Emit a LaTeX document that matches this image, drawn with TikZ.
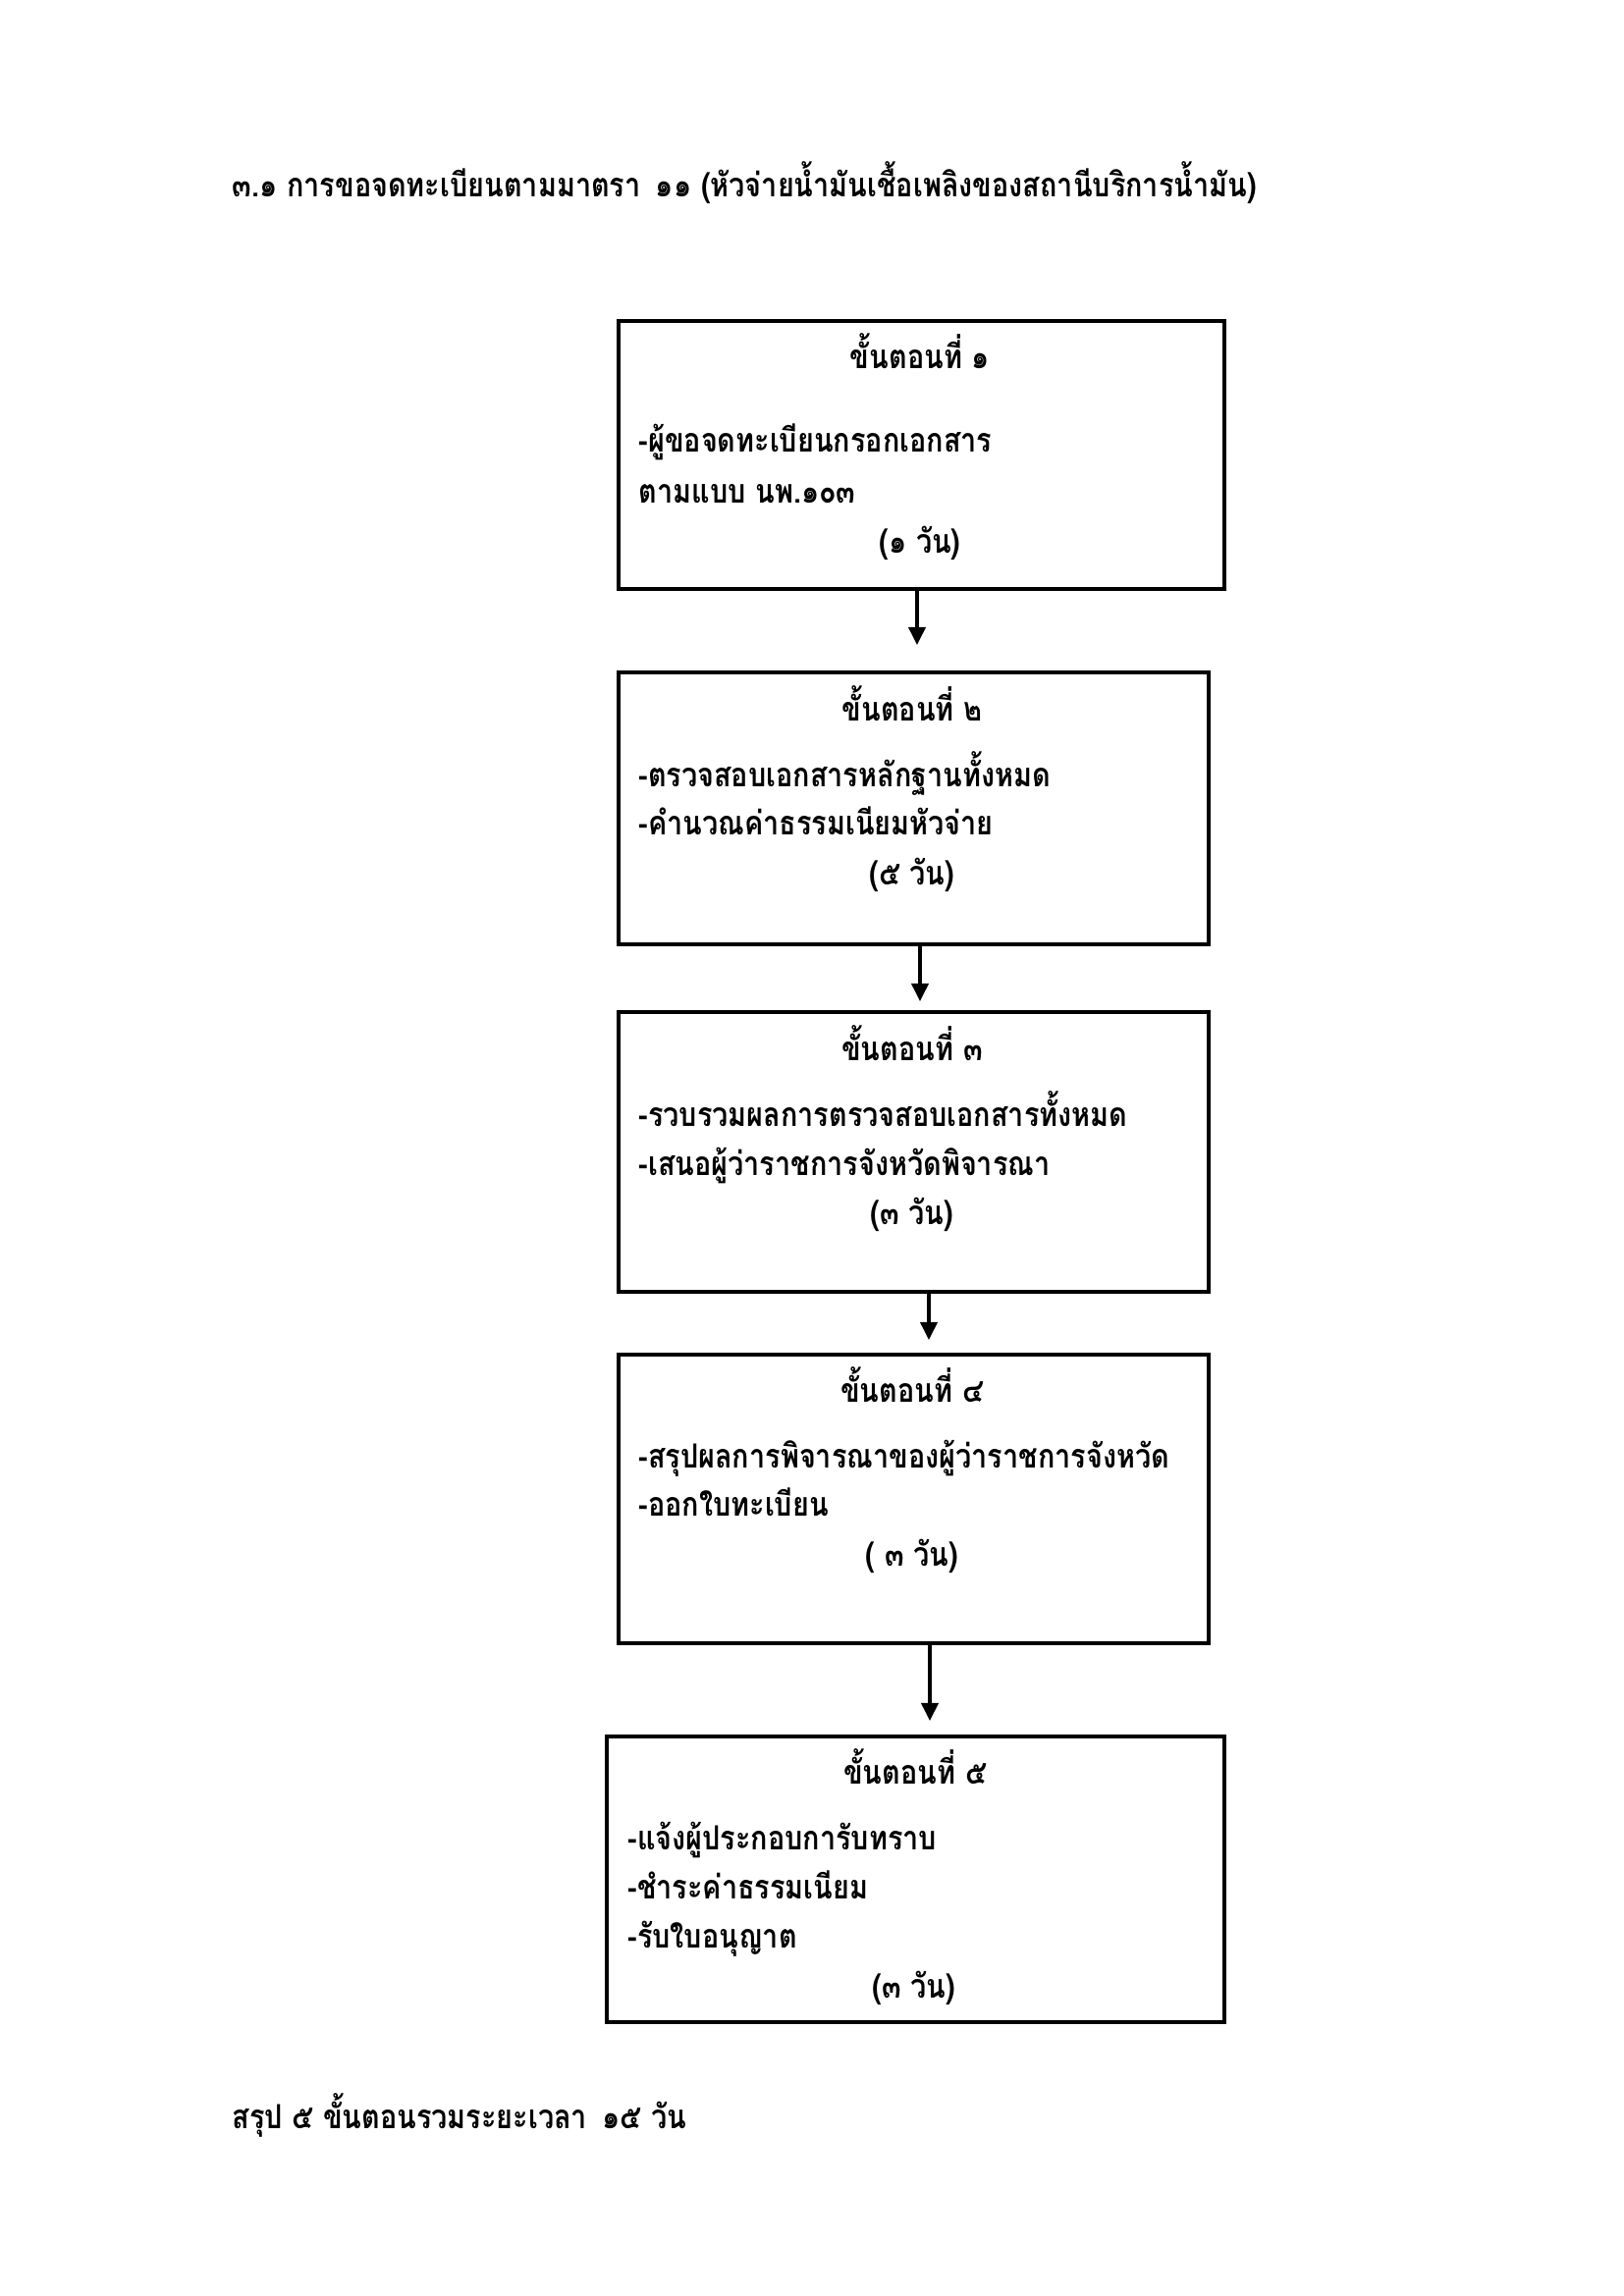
\documentclass[tikz,border=0pt]{standalone}
\usepackage{fontspec}
\newfontfamily\thaifont[Script=Thai,FakeStretch=0.85]{Loma}
\usetikzlibrary{arrows.meta,fit}
\tikzset{
  box/.style={draw, line width=1.1pt, inner sep=0pt},
  arr/.style={line width=1.1pt, -{Triangle[length=6.5pt,width=6.2pt]}},
  txt/.style={inner sep=0pt, anchor=base west, font=\thaifont\bfseries\fontsize{12.2}{14}\selectfont},
  ctxt/.style={txt, anchor=base},
}
\begin{document}
\begin{tikzpicture}[x=0.3599pt, y=-0.3599pt]
\useasboundingbox (0,0) rectangle (1654,2339);
\fill[white] (0,0) rectangle (1654,2339);
% title
\node[txt] (title) at (236,200) {๓.๑ การขอจดทะเบียนตามมาตรา\hspace{0.45em}๑๑ (หัวจ่ายน้ำมันเชื้อเพลิงของสถานีบริการน้ำมัน)};
% boxes
\node[box, fit={(630,327) (1247,600)}] (b1) {};
\node[box, fit={(630,685) (1231,962)}] (b2) {};
\node[box, fit={(630,1031) (1231,1316)}] (b3) {};
\node[box, fit={(630,1380) (1231,1674)}] (b4) {};
\node[box, fit={(618,1769) (1247,2060)}] (b5) {};
% box 1 text
\node[ctxt] (h1) at (937,375) {ขั้นตอนที่ ๑};
\node[txt] (l11) at (650,460) {-ผู้ขอจดทะเบียนกรอกเอกสาร};
\node[txt] (l12) at (650,512) {ตามแบบ นพ.๑๐๓};
\node[ctxt] (d1) at (937,563) {(๑ วัน)};
% box 2 text
\node[ctxt] (h2) at (929,734) {ขั้นตอนที่ ๒};
\node[txt] (l21) at (650,801) {-ตรวจสอบเอกสารหลักฐานทั้งหมด};
\node[txt] (l22) at (650,850) {-คำนวณค่าธรรมเนียมหัวจ่าย};
\node[ctxt] (d2) at (929,901) {(๕ วัน)};
% box 3 text
\node[ctxt] (h3) at (929,1080) {ขั้นตอนที่ ๓};
\node[txt] (l31) at (650,1147) {-รวบรวมผลการตรวจสอบเอกสารทั้งหมด};
\node[txt] (l32) at (650,1197) {-เสนอผู้ว่าราชการจังหวัดพิจารณา};
\node[ctxt] (d3) at (929,1247) {(๓ วัน)};
% box 4 text
\node[ctxt] (h4) at (929,1428) {ขั้นตอนที่ ๔};
\node[txt] (l41) at (650,1495) {-สรุปผลการพิจารณาของผู้ว่าราชการจังหวัด};
\node[txt] (l42) at (650,1544) {-ออกใบทะเบียน};
\node[ctxt] (d4) at (929,1595) {( ๓ วัน)};
% box 5 text
\node[ctxt] (h5) at (932,1817) {ขั้นตอนที่ ๕};
\node[txt] (l51) at (639,1884) {-แจ้งผู้ประกอบการับทราบ};
\node[txt] (l52) at (639,1934) {-ชำระค่าธรรมเนียม};
\node[txt] (l53) at (639,1984) {-รับใบอนุญาต};
\node[ctxt] (d5) at (931,2035) {(๓ วัน)};
% footer
\node[txt] (sum) at (236,2168) {สรุป ๕ ขั้นตอนรวมระยะเวลา\hspace{0.45em}๑๕ วัน};
% arrows
\coordinate (t1) at (934,657);
\coordinate (t2) at (937,1020);
\coordinate (t3) at (946,1365);
\coordinate (t4) at (947,1753);
\draw[arr] (b1.south -| t1) -- (t1);
\draw[arr] (b2.south -| t2) -- (t2);
\draw[arr] (b3.south -| t3) -- (t3);
\draw[arr] (b4.south -| t4) -- (t4);
\end{tikzpicture}
\end{document}
